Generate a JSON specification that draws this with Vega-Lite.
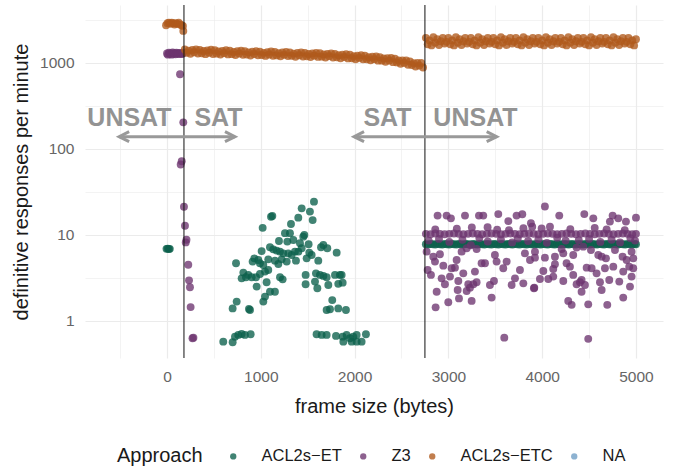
{
"$schema":"https://vega.github.io/schema/vega-lite/v6.json",
"width":578,"height":353,
"autosize":{"type":"none"},
"padding":{"left":85,"top":5,"right":14,"bottom":112},
"background":"white",
"config":{"font":"Liberation Sans","view":{"stroke":null},
"axis":{"domain":false,"ticks":false,"gridColor":"#ebebeb","labelColor":"#666666","labelFontSize":15.5,"titleFontSize":20,"titleFontWeight":"normal","titleColor":"#1a1a1a"}},
"datasets":{
"et":[{"x":-5,"y":6.9},{"x":8,"y":6.95},{"x":20,"y":6.85},{"x":30,"y":6.9},
{"x":1567,"y":24.4},{"x":1524,"y":18.7},{"x":1553,"y":14.9},{"x":1436,"y":20.4},{"x":1400,"y":15.9},{"x":1322,"y":13.4},{"x":1123,"y":16.6},{"x":1109,"y":16.3},{"x":1020,"y":12.1},{"x":1258,"y":10.5},{"x":1311,"y":10.5},{"x":1464,"y":10},{"x":1453,"y":9.56},{"x":1347,"y":8.75},{"x":1283,"y":8.37},{"x":1194,"y":8.51},{"x":1418,"y":8.0},{"x":1510,"y":7.79},{"x":1667,"y":7.65},{"x":1709,"y":7.0},{"x":1642,"y":7.19},{"x":1809,"y":6.23},{"x":1098,"y":7.19},{"x":1133,"y":6.81},{"x":1169,"y":6.58},{"x":1205,"y":6.4},{"x":1240,"y":6.12},{"x":1293,"y":6.12},{"x":1329,"y":5.85},{"x":1364,"y":6.4},{"x":1400,"y":6.4},{"x":1436,"y":7.0},{"x":1517,"y":6.23},{"x":1542,"y":5.85},{"x":1489,"y":5.35},{"x":1613,"y":5.03},{"x":1375,"y":5.03},{"x":1276,"y":4.9},{"x":1222,"y":5.21},{"x":1187,"y":4.6},{"x":1151,"y":5.03},{"x":1080,"y":5.21},{"x":1009,"y":6.5},{"x":931,"y":5.35},{"x":913,"y":4.9},{"x":974,"y":5.12},{"x":991,"y":4.69},{"x":1027,"y":4.48},{"x":736,"y":4.69},{"x":814,"y":3.65},{"x":867,"y":3.43},{"x":903,"y":3.22},{"x":842,"y":3.22},{"x":796,"y":3.13},{"x":949,"y":3.22},{"x":991,"y":3.52},{"x":1045,"y":3.75},{"x":1080,"y":3.92},{"x":1205,"y":3.22},{"x":1233,"y":3.05},{"x":956,"y":2.51},{"x":1062,"y":2.82},{"x":1151,"y":2.19},{"x":1098,"y":2.19},{"x":1045,"y":1.92},{"x":1027,"y":1.68},{"x":743,"y":1.68},{"x":700,"y":1.4},{"x":874,"y":1.38},{"x":885,"y":1.34},{"x":1478,"y":3.43},{"x":1478,"y":2.67},{"x":1588,"y":3.58},{"x":1631,"y":3.43},{"x":1578,"y":2.87},{"x":1603,"y":2.4},{"x":1667,"y":3.34},{"x":1702,"y":3.22},{"x":1720,"y":2.62},{"x":1791,"y":3.43},{"x":1844,"y":3.43},{"x":1873,"y":2.79},{"x":1826,"y":2.7},{"x":1862,"y":3.43},{"x":1762,"y":1.75},{"x":1738,"y":1.37},{"x":1702,"y":1.34},{"x":1826,"y":1.4},{"x":1908,"y":1.34},
{"x":600,"y":0.575},{"x":700,"y":0.565},{"x":725,"y":0.657},{"x":760,"y":0.688},{"x":796,"y":0.706},{"x":831,"y":0.688},{"x":892,"y":0.7},{"x":1595,"y":0.7},{"x":1649,"y":0.688},{"x":1702,"y":0.688},{"x":1802,"y":0.67},{"x":1873,"y":0.657},{"x":1915,"y":0.688},{"x":1951,"y":0.629},{"x":1986,"y":0.657},{"x":2022,"y":0.688},{"x":1880,"y":0.575},{"x":1969,"y":0.575},{"x":2022,"y":0.575},{"x":2075,"y":0.575},{"x":2121,"y":0.7},
{"x":2760,"y":7.8},{"x":2785,"y":7.75},{"x":2810,"y":7.85},{"x":2835,"y":7.8},{"x":2860,"y":7.75},{"x":2885,"y":7.85},{"x":2910,"y":7.8},{"x":2935,"y":7.75},{"x":2960,"y":7.85},{"x":2985,"y":7.8},{"x":3010,"y":7.75},{"x":3035,"y":7.85},{"x":3060,"y":7.8},{"x":3085,"y":7.75},{"x":3110,"y":7.85},{"x":3135,"y":7.8},{"x":3160,"y":7.75},{"x":3185,"y":7.85},{"x":3210,"y":7.8},{"x":3235,"y":7.75},{"x":3260,"y":7.85},{"x":3285,"y":7.8},{"x":3310,"y":7.75},{"x":3335,"y":7.85},{"x":3360,"y":7.8},{"x":3385,"y":7.75},{"x":3410,"y":7.85},{"x":3435,"y":7.8},{"x":3460,"y":7.75},{"x":3485,"y":7.85},{"x":3510,"y":7.8},{"x":3535,"y":7.75},{"x":3560,"y":7.85},{"x":3585,"y":7.8},{"x":3610,"y":7.75},{"x":3635,"y":7.85},{"x":3660,"y":7.8},{"x":3685,"y":7.75},{"x":3710,"y":7.85},{"x":3735,"y":7.8},{"x":3760,"y":7.75},{"x":3785,"y":7.85},{"x":3810,"y":7.8},{"x":3835,"y":7.75},{"x":3860,"y":7.85},{"x":3885,"y":7.8},{"x":3910,"y":7.75},{"x":3935,"y":7.85},{"x":3960,"y":7.8},{"x":3985,"y":7.75},{"x":4010,"y":7.85},{"x":4035,"y":7.8},{"x":4060,"y":7.75},{"x":4085,"y":7.85},{"x":4110,"y":7.8},{"x":4135,"y":7.75},{"x":4160,"y":7.85},{"x":4185,"y":7.8},{"x":4210,"y":7.75},{"x":4235,"y":7.85},{"x":4260,"y":7.8},{"x":4285,"y":7.75},{"x":4310,"y":7.85},{"x":4335,"y":7.8},{"x":4360,"y":7.75},{"x":4385,"y":7.85},{"x":4410,"y":7.8},{"x":4435,"y":7.75},{"x":4460,"y":7.85},{"x":4485,"y":7.8},{"x":4510,"y":7.75},{"x":4535,"y":7.85},{"x":4560,"y":7.8},{"x":4585,"y":7.75},{"x":4610,"y":7.85},{"x":4635,"y":7.8},{"x":4660,"y":7.75},{"x":4685,"y":7.85},{"x":4710,"y":7.8},{"x":4735,"y":7.75},{"x":4760,"y":7.85},{"x":4785,"y":7.8},{"x":4810,"y":7.75},{"x":4835,"y":7.85},{"x":4860,"y":7.8},{"x":4885,"y":7.75},{"x":4910,"y":7.85},{"x":4935,"y":7.8},{"x":4960,"y":7.75},{"x":4985,"y":7.85},{"x":5000,"y":7.8}],
"z3":[{"x":0,"y":1290},{"x":10,"y":1250},{"x":20,"y":1320},{"x":30,"y":1270},{"x":40,"y":1300},{"x":50,"y":1250},{"x":60,"y":1330},{"x":70,"y":1280},{"x":80,"y":1300},{"x":90,"y":1260},{"x":100,"y":1320},{"x":110,"y":1280},{"x":120,"y":1300},{"x":130,"y":1270},{"x":140,"y":1310},{"x":150,"y":1290},{"x":160,"y":1270},{"x":170,"y":1300},
{"x":139,"y":739},{"x":174,"y":204},{"x":157,"y":72},{"x":146,"y":66},{"x":181,"y":21.3},{"x":192,"y":12.8},{"x":208,"y":8.8},{"x":200,"y":8.2},{"x":227,"y":4.5},{"x":235,"y":2.97},{"x":245,"y":2.47},{"x":252,"y":1.45},{"x":272,"y":0.63},{"x":282,"y":0.64},
{"x":2760,"y":10.3},{"x":2810,"y":10.2},{"x":2860,"y":10.4},{"x":2910,"y":10.3},{"x":2960,"y":10.2},{"x":3010,"y":10.3},{"x":3060,"y":10.4},{"x":3110,"y":10.3},{"x":3160,"y":10.2},{"x":3210,"y":10.3},{"x":3260,"y":10.4},{"x":3310,"y":10.3},{"x":3360,"y":10.2},{"x":3410,"y":10.3},{"x":3460,"y":10.4},{"x":3510,"y":10.3},{"x":3560,"y":10.2},{"x":3610,"y":10.3},{"x":3660,"y":10.4},{"x":3710,"y":10.3},{"x":3760,"y":10.2},{"x":3810,"y":10.3},{"x":3860,"y":10.4},{"x":3910,"y":10.3},{"x":3960,"y":10.2},{"x":4010,"y":10.3},{"x":4060,"y":10.4},{"x":4110,"y":10.3},{"x":4160,"y":10.2},{"x":4210,"y":10.3},{"x":4260,"y":10.4},{"x":4310,"y":10.3},{"x":4360,"y":10.2},{"x":4410,"y":10.3},{"x":4460,"y":10.4},{"x":4510,"y":10.3},{"x":4560,"y":10.2},{"x":4610,"y":10.3},{"x":4660,"y":10.4},{"x":4710,"y":10.3},{"x":4760,"y":10.2},{"x":4810,"y":10.3},{"x":4860,"y":10.4},{"x":4910,"y":10.3},{"x":4960,"y":10.2},{"x":5000,"y":10.3},
{"x":2885,"y":16.8},{"x":2981,"y":16.8},{"x":3027,"y":15.6},{"x":3177,"y":16.8},{"x":3326,"y":16.8},{"x":3372,"y":16.8},{"x":3532,"y":17.5},{"x":3639,"y":14.5},{"x":3727,"y":16.8},{"x":3788,"y":17.4},{"x":3880,"y":13.7},{"x":3894,"y":12.5},{"x":3418,"y":12.3},{"x":3646,"y":11.4},
{"x":2768,"y":6.4},{"x":2839,"y":5.6},{"x":2910,"y":5.96},{"x":2857,"y":4.9},{"x":2946,"y":4.4},{"x":3088,"y":5.12},{"x":3141,"y":6.4},{"x":3195,"y":7.0},{"x":3301,"y":6.87},{"x":3354,"y":4.69},{"x":3390,"y":4.69},{"x":3496,"y":5.85},{"x":3514,"y":4.9},{"x":3585,"y":4.1},{"x":3621,"y":4.9},{"x":3816,"y":6.12},{"x":3870,"y":5.12},{"x":3923,"y":6.4},
{"x":2779,"y":3.92},{"x":2814,"y":3.43},{"x":2928,"y":3.13},{"x":3035,"y":4.1},{"x":3070,"y":4.17},{"x":3017,"y":3.28},{"x":3159,"y":3.58},{"x":3283,"y":3.75},{"x":2963,"y":2.67},{"x":3106,"y":2.92},{"x":3212,"y":2.67},{"x":3266,"y":2.67},{"x":3301,"y":2.82},{"x":3443,"y":2.62},{"x":3486,"y":2.92},{"x":3674,"y":2.62},{"x":3710,"y":3.13},{"x":3763,"y":3.92},{"x":3799,"y":2.74},{"x":3916,"y":2.44},
{"x":2875,"y":2.19},{"x":3099,"y":2.29},{"x":3195,"y":2.23},{"x":3230,"y":2.44},{"x":2999,"y":1.65},{"x":3113,"y":1.83},{"x":3248,"y":1.71},{"x":3461,"y":1.87},{"x":2864,"y":1.44},{"x":3596,"y":0.64},
{"x":4029,"y":21.4},{"x":4182,"y":16.8},{"x":4449,"y":17.5},{"x":4545,"y":15.6},{"x":4722,"y":14.3},{"x":4751,"y":16.8},{"x":4811,"y":15.6},{"x":4893,"y":14.3},{"x":5000,"y":15.9},{"x":4687,"y":11.6},{"x":4083,"y":12.5},{"x":3994,"y":11.9},
{"x":3923,"y":5.45},{"x":4029,"y":5.45},{"x":4136,"y":5.6},{"x":4207,"y":6.87},{"x":4225,"y":6.12},{"x":4331,"y":5.85},{"x":4367,"y":7.13},{"x":4438,"y":7.32},{"x":4520,"y":6.69},{"x":4598,"y":5.85},{"x":4634,"y":5.6},{"x":4680,"y":5.35},{"x":4776,"y":6.69},{"x":4857,"y":5.6},{"x":4900,"y":5.12},{"x":4953,"y":6.4},{"x":4971,"y":5.35},
{"x":4012,"y":3.81},{"x":4118,"y":4.02},{"x":4136,"y":4.56},{"x":4260,"y":4.69},{"x":4296,"y":4.28},{"x":4331,"y":3.43},{"x":4474,"y":4.17},{"x":4527,"y":4.1},{"x":4580,"y":3.58},{"x":4669,"y":4.1},{"x":4758,"y":4.28},{"x":4864,"y":3.75},{"x":4928,"y":4.28},{"x":4971,"y":4.1},
{"x":3912,"y":2.4},{"x":3976,"y":3.08},{"x":4065,"y":3.08},{"x":4118,"y":3.28},{"x":4225,"y":2.92},{"x":4367,"y":2.67},{"x":4403,"y":2.82},{"x":4420,"y":3.0},{"x":4456,"y":2.62},{"x":4420,"y":2.19},{"x":4616,"y":2.82},{"x":4634,"y":2.29},{"x":4715,"y":3.0},{"x":4822,"y":2.87},{"x":4936,"y":2.51},{"x":4953,"y":3.28},
{"x":4278,"y":1.71},{"x":4314,"y":1.54},{"x":4491,"y":1.56},{"x":4694,"y":1.54},{"x":4864,"y":1.87},{"x":4491,"y":0.62},
{"x":2790,"y":8.6},{"x":2900,"y":9.0},{"x":3010,"y":8.3},{"x":3150,"y":8.8},{"x":3240,"y":7.6},{"x":3330,"y":9.2},{"x":3420,"y":8.4},{"x":3560,"y":8.9},{"x":3680,"y":8.2},{"x":3740,"y":9.1},{"x":3850,"y":8.5},{"x":3960,"y":8.9},{"x":4050,"y":8.1},{"x":4160,"y":9.3},{"x":4250,"y":8.6},{"x":4390,"y":8.7},{"x":4500,"y":9.0},{"x":4620,"y":8.3},{"x":4740,"y":8.8},{"x":4830,"y":8.2},{"x":4940,"y":9.2},{"x":4990,"y":8.6},
{"x":2860,"y":11.6},{"x":3090,"y":11.8},{"x":3250,"y":12.2},{"x":3520,"y":11.5},{"x":3800,"y":12.0},{"x":4300,"y":11.7},{"x":4560,"y":12.1},{"x":4880,"y":11.4}],
"etc":[{"x":-10,"y":2750},{"x":5,"y":2900},{"x":20,"y":2950},{"x":35,"y":2850},{"x":50,"y":2950},{"x":65,"y":2900},{"x":80,"y":2800},{"x":95,"y":2900},{"x":110,"y":2850},{"x":125,"y":2950},{"x":140,"y":2800},{"x":155,"y":2750},{"x":170,"y":2700},{"x":174,"y":2360},
{"x":190,"y":1439},{"x":210,"y":1313},{"x":230,"y":1393},{"x":250,"y":1282},{"x":270,"y":1416},{"x":290,"y":1333},{"x":310,"y":1440},{"x":330,"y":1288},{"x":350,"y":1422},{"x":370,"y":1298},{"x":390,"y":1377},{"x":410,"y":1267},{"x":430,"y":1400},{"x":450,"y":1317},{"x":470,"y":1423},{"x":490,"y":1273},{"x":510,"y":1405},{"x":530,"y":1283},{"x":550,"y":1361},{"x":570,"y":1252},{"x":590,"y":1383},{"x":610,"y":1301},{"x":630,"y":1406},{"x":650,"y":1258},{"x":670,"y":1388},{"x":690,"y":1267},{"x":710,"y":1344},{"x":730,"y":1238},{"x":750,"y":1368},{"x":770,"y":1287},{"x":790,"y":1390},{"x":810,"y":1244},{"x":830,"y":1372},{"x":850,"y":1253},{"x":870,"y":1329},{"x":890,"y":1223},{"x":910,"y":1351},{"x":930,"y":1271},{"x":950,"y":1373},{"x":970,"y":1228},{"x":990,"y":1356},{"x":1010,"y":1237},{"x":1030,"y":1313},{"x":1050,"y":1209},{"x":1070,"y":1335},{"x":1090,"y":1256},{"x":1110,"y":1358},{"x":1130,"y":1215},{"x":1150,"y":1341},{"x":1170,"y":1225},{"x":1190,"y":1299},{"x":1210,"y":1196},{"x":1230,"y":1322},{"x":1250,"y":1244},{"x":1270,"y":1343},{"x":1290,"y":1202},{"x":1310,"y":1327},{"x":1330,"y":1212},{"x":1350,"y":1285},{"x":1370,"y":1183},{"x":1390,"y":1307},{"x":1410,"y":1230},{"x":1430,"y":1328},{"x":1450,"y":1188},{"x":1470,"y":1313},{"x":1490,"y":1198},{"x":1510,"y":1271},{"x":1530,"y":1170},{"x":1550,"y":1293},{"x":1570,"y":1216},{"x":1590,"y":1313},{"x":1610,"y":1176},{"x":1630,"y":1298},{"x":1650,"y":1185},{"x":1670,"y":1258},{"x":1690,"y":1157},{"x":1710,"y":1277},{"x":1730,"y":1200},{"x":1750,"y":1294},{"x":1770,"y":1157},{"x":1790,"y":1275},{"x":1810,"y":1163},{"x":1830,"y":1231},{"x":1850,"y":1132},{"x":1870,"y":1248},{"x":1890,"y":1173},{"x":1910,"y":1265},{"x":1930,"y":1130},{"x":1950,"y":1245},{"x":1970,"y":1136},{"x":1990,"y":1203},{"x":2010,"y":1105},{"x":2030,"y":1219},{"x":2050,"y":1146},{"x":2070,"y":1235},{"x":2090,"y":1104},{"x":2110,"y":1215},{"x":2130,"y":1106},{"x":2150,"y":1170},{"x":2170,"y":1073},{"x":2190,"y":1181},{"x":2210,"y":1108},{"x":2230,"y":1193},{"x":2250,"y":1064},{"x":2270,"y":1171},{"x":2290,"y":1065},{"x":2310,"y":1126},{"x":2330,"y":1033},{"x":2350,"y":1137},{"x":2370,"y":1066},{"x":2390,"y":1148},{"x":2410,"y":1022},{"x":2430,"y":1120},{"x":2450,"y":1016},{"x":2470,"y":1070},{"x":2490,"y":978},{"x":2510,"y":1072},{"x":2530,"y":1002},{"x":2550,"y":1074},{"x":2570,"y":954},{"x":2590,"y":1045},{"x":2610,"y":947},{"x":2630,"y":997},{"x":2650,"y":911},{"x":2670,"y":998},{"x":2690,"y":932},{"x":2710,"y":1000},{"x":2730,"y":887},
{"x":2760,"y":1960},{"x":2780,"y":1650},{"x":2800,"y":1830},{"x":2820,"y":1600},{"x":2840,"y":1990},{"x":2860,"y":1720},{"x":2880,"y":1890},{"x":2900,"y":1620},{"x":2920,"y":1790},{"x":2940,"y":1950},{"x":2960,"y":1680},{"x":2980,"y":1760},{"x":3000,"y":1960},{"x":3020,"y":1650},{"x":3040,"y":1830},{"x":3060,"y":1600},{"x":3080,"y":1990},{"x":3100,"y":1720},{"x":3120,"y":1890},{"x":3140,"y":1620},{"x":3160,"y":1790},{"x":3180,"y":1950},{"x":3200,"y":1680},{"x":3220,"y":1760},{"x":3240,"y":1960},{"x":3260,"y":1650},{"x":3280,"y":1830},{"x":3300,"y":1600},{"x":3320,"y":1990},{"x":3340,"y":1720},{"x":3360,"y":1890},{"x":3380,"y":1620},{"x":3400,"y":1790},{"x":3420,"y":1950},{"x":3440,"y":1680},{"x":3460,"y":1760},{"x":3480,"y":1960},{"x":3500,"y":1650},{"x":3520,"y":1830},{"x":3540,"y":1600},{"x":3560,"y":1990},{"x":3580,"y":1720},{"x":3600,"y":1890},{"x":3620,"y":1620},{"x":3640,"y":1790},{"x":3660,"y":1950},{"x":3680,"y":1680},{"x":3700,"y":1760},{"x":3720,"y":1960},{"x":3740,"y":1650},{"x":3760,"y":1830},{"x":3780,"y":1600},{"x":3800,"y":1990},{"x":3820,"y":1720},{"x":3840,"y":1890},{"x":3860,"y":1620},{"x":3880,"y":1790},{"x":3900,"y":1950},{"x":3920,"y":1680},{"x":3940,"y":1760},{"x":3960,"y":1960},{"x":3980,"y":1650},{"x":4000,"y":1830},{"x":4020,"y":1600},{"x":4040,"y":1990},{"x":4060,"y":1720},{"x":4080,"y":1890},{"x":4100,"y":1620},{"x":4120,"y":1790},{"x":4140,"y":1950},{"x":4160,"y":1680},{"x":4180,"y":1760},{"x":4200,"y":1960},{"x":4220,"y":1650},{"x":4240,"y":1830},{"x":4260,"y":1600},{"x":4280,"y":1990},{"x":4300,"y":1720},{"x":4320,"y":1890},{"x":4340,"y":1620},{"x":4360,"y":1790},{"x":4380,"y":1950},{"x":4400,"y":1680},{"x":4420,"y":1760},{"x":4440,"y":1960},{"x":4460,"y":1650},{"x":4480,"y":1830},{"x":4500,"y":1600},{"x":4520,"y":1990},{"x":4540,"y":1720},{"x":4560,"y":1890},{"x":4580,"y":1620},{"x":4600,"y":1790},{"x":4620,"y":1950},{"x":4640,"y":1680},{"x":4660,"y":1760},{"x":4680,"y":1960},{"x":4700,"y":1650},{"x":4720,"y":1830},{"x":4740,"y":1600},{"x":4760,"y":1990},{"x":4780,"y":1720},{"x":4800,"y":1890},{"x":4820,"y":1620},{"x":4840,"y":1790},{"x":4860,"y":1950},{"x":4880,"y":1680},{"x":4900,"y":1760},{"x":4920,"y":1960},{"x":4940,"y":1650},{"x":4960,"y":1830},{"x":4980,"y":1600},{"x":5000,"y":1890}]
},
"layer":[
{"data":{"name":"et"},"mark":{"type":"circle","size":62,"opacity":0.78},
"encoding":{
"x":{"field":"x","type":"quantitative","scale":{"domain":[-874,5288],"nice":false,"zero":false},
"axis":{"title":"frame size (bytes)","values":[-500,0,500,1000,1500,2000,2500,3000,3500,4000,4500,5000],"format":"d","labelExpr":"datum.value % 1000 === 0 ? datum.label : ''","labelPadding":11,"titlePadding":12,"gridWidth":{"condition":{"test":"datum.value % 1000 === 0","value":1.2},"value":0.6}}},
"y":{"field":"y","type":"quantitative","scale":{"type":"log","domain":[0.371,4724],"nice":false},
"axis":{"title":"definitive responses per minute","values":[1,3.1623,10,31.623,100,316.23,1000,3162.3],"labelExpr":"(datum.value == 1 || datum.value == 10 || datum.value == 100 || datum.value == 1000) ? datum.value + '' : ''","labelPadding":11,"titlePadding":8,"gridWidth":{"condition":{"test":"datum.value == 1 || datum.value == 10 || datum.value == 100 || datum.value == 1000","value":1.2},"value":0.6}}},
"color":{"datum":"ACL2s−ET","type":"nominal","scale":{"domain":["ACL2s−ET","Z3","ACL2s−ETC","NA"],"range":["#0c604c","#6d356f","#b05a1c","#6d9cc4"]},
"legend":{"title":"Approach","orient":"none","legendX":32,"legendY":443,"direction":"horizontal","titleOrient":"left","titleFontSize":20,"titleFontWeight":"normal","titleColor":"#1a1a1a","labelFontSize":16.5,"labelColor":"#1a1a1a","symbolType":"circle","symbolSize":40,"symbolOpacity":0.75,"symbolStrokeWidth":0,"labelOffset":20,"columnPadding":13,"titlePadding":22}}}},
{"data":{"name":"z3"},"mark":{"type":"circle","size":62,"opacity":0.78},
"encoding":{"x":{"field":"x","type":"quantitative","scale":{"domain":[-874,5288],"nice":false,"zero":false}},
"y":{"field":"y","type":"quantitative","scale":{"type":"log","domain":[0.371,4724],"nice":false}},
"color":{"datum":"Z3","type":"nominal","scale":{"domain":["ACL2s−ET","Z3","ACL2s−ETC","NA"],"range":["#0c604c","#6d356f","#b05a1c","#6d9cc4"]}}}},
{"data":{"name":"etc"},"mark":{"type":"circle","size":62,"opacity":0.78},
"encoding":{"x":{"field":"x","type":"quantitative","scale":{"domain":[-874,5288],"nice":false,"zero":false}},
"y":{"field":"y","type":"quantitative","scale":{"type":"log","domain":[0.371,4724],"nice":false}},
"color":{"datum":"ACL2s−ETC","type":"nominal","scale":{"domain":["ACL2s−ET","Z3","ACL2s−ETC","NA"],"range":["#0c604c","#6d356f","#b05a1c","#6d9cc4"]}}}},
{"data":{"values":[{"x":181},{"x":2750}]},"mark":{"type":"rule","color":"#111111","strokeWidth":1},
"encoding":{"x":{"field":"x","type":"quantitative","scale":{"domain":[-874,5288],"nice":false,"zero":false}}}},
{"data":{"values":[{"x":-510,"x2":725,"y":139},{"x":1994,"x2":3515,"y":139}]},"mark":{"type":"rule","color":"#999999","strokeWidth":3},
"encoding":{"x":{"field":"x","type":"quantitative","scale":{"domain":[-874,5288],"nice":false,"zero":false}},"x2":{"field":"x2"},
"y":{"field":"y","type":"quantitative","scale":{"type":"log","domain":[0.371,4724],"nice":false}}}},
{"data":{"values":[{"x":-510,"y":139,"dir":"left"},{"x":725,"y":139,"dir":"right"},{"x":1994,"y":139,"dir":"left"},{"x":3515,"y":139,"dir":"right"}]},
"mark":{"type":"point","filled":false,"size":400,"strokeWidth":3,"color":"#999999","opacity":1,"strokeJoin":"miter"},
"encoding":{"x":{"field":"x","type":"quantitative","scale":{"domain":[-874,5288],"nice":false,"zero":false}},
"y":{"field":"y","type":"quantitative","scale":{"type":"log","domain":[0.371,4724],"nice":false}},
"shape":{"field":"dir","type":"nominal","scale":{"domain":["left","right"],"range":["M1,-0.5L0,0L1,0.5","M-1,-0.5L0,0L-1,0.5"]},"legend":null}}},
{"data":{"values":[{"x":-400,"y":185,"label":"UNSAT"},{"x":549,"y":185,"label":"SAT"},{"x":2351,"y":185,"label":"SAT"},{"x":3289,"y":185,"label":"UNSAT"}]},
"mark":{"type":"text","fontSize":25,"fontWeight":"bold","color":"#939393","align":"center","baseline":"alphabetic"},
"encoding":{"x":{"field":"x","type":"quantitative","scale":{"domain":[-874,5288],"nice":false,"zero":false}},
"y":{"field":"y","type":"quantitative","scale":{"type":"log","domain":[0.371,4724],"nice":false}},
"text":{"field":"label"}}}
]
}
